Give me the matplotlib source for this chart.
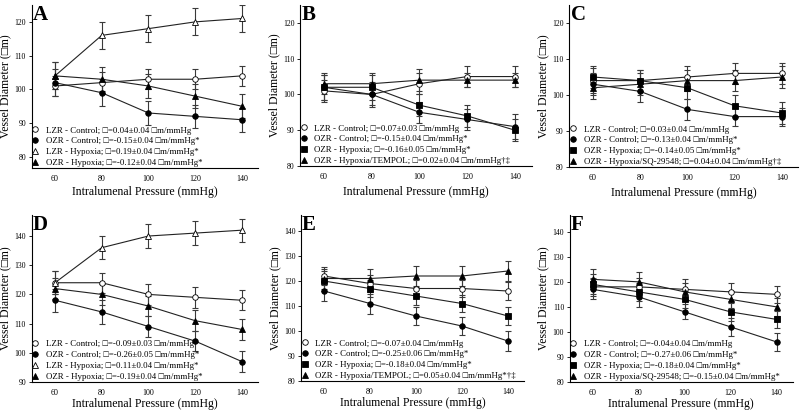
import matplotlib
matplotlib.use("Agg")
import matplotlib.pyplot as plt

plt.rcParams['font.family'] = ['Liberation Serif', 'DejaVu Sans']

pressure = [60, 80, 100, 120, 140]

# Panel A
a_lzr_ctrl = [101, 102, 103, 103, 104]
a_lzr_ctrl_err = [3, 3, 3, 3, 3]
a_ozr_ctrl = [102, 99, 93, 92, 91]
a_ozr_ctrl_err = [4, 4, 3.5, 3.5, 3.5]
a_lzr_hyp = [104, 116, 118, 120, 121]
a_lzr_hyp_err = [4, 4, 4, 4, 4]
a_ozr_hyp = [104, 103, 101, 98, 95]
a_ozr_hyp_err = [4, 3.5, 3.5, 3.5, 3.5]

# Panel B
b_lzr_ctrl = [101, 100, 103, 105, 105]
b_lzr_ctrl_err = [3, 3, 3, 3, 3]
b_ozr_ctrl = [102, 100, 95, 93, 91]
b_ozr_ctrl_err = [3.5, 3.5, 3, 3, 3.5]
b_ozr_hyp = [102, 102, 97, 94, 90]
b_ozr_hyp_err = [3.5, 3.5, 3, 3, 3]
b_ozr_tempol = [103, 103, 104, 104, 104]
b_ozr_tempol_err = [3, 3, 3, 2, 2]

# Panel C
c_lzr_ctrl = [104, 104, 105, 106, 106]
c_lzr_ctrl_err = [3.5, 3, 3, 3, 3]
c_ozr_ctrl = [103, 101, 96, 94, 94]
c_ozr_ctrl_err = [3, 3, 3, 2.5, 2.5]
c_ozr_hyp = [105, 104, 102, 97, 95]
c_ozr_hyp_err = [3, 3, 3, 3, 3]
c_ozr_sq = [102, 103, 104, 104, 105]
c_ozr_sq_err = [3, 3, 3, 3, 3]

# Panel D
d_lzr_ctrl = [124, 124, 120, 119, 118]
d_lzr_ctrl_err = [4, 3.5, 3.5, 3.5, 3.5]
d_ozr_ctrl = [118, 114, 109, 104, 97]
d_ozr_ctrl_err = [4, 4, 3.5, 3.5, 3.5]
d_lzr_hyp = [124, 136, 140, 141, 142]
d_lzr_hyp_err = [4, 4, 4, 4, 4]
d_ozr_hyp = [122, 120, 116, 111, 108]
d_ozr_hyp_err = [3.5, 3.5, 3.5, 3.5, 3.5]

# Panel E
e_lzr_ctrl = [122, 119, 117, 117, 116]
e_lzr_ctrl_err = [3.5, 3.5, 3.5, 3.5, 3.5]
e_ozr_ctrl = [116, 111, 106, 102, 96]
e_ozr_ctrl_err = [4, 4, 3.5, 3.5, 4]
e_ozr_hyp = [120, 117, 114, 111, 106]
e_ozr_hyp_err = [4, 3.5, 3.5, 3.5, 3.5]
e_ozr_tempol = [121, 121, 122, 122, 124]
e_ozr_tempol_err = [4, 4, 4, 4, 4]

# Panel F
f_lzr_ctrl = [118, 118, 117, 116, 115]
f_lzr_ctrl_err = [3.5, 3.5, 4, 3.5, 3.5]
f_ozr_ctrl = [117, 114, 108, 102, 96]
f_ozr_ctrl_err = [4, 4, 3, 3.5, 3.5]
f_ozr_hyp = [119, 116, 113, 108, 105]
f_ozr_hyp_err = [4, 3.5, 3.5, 3.5, 3.5]
f_ozr_sq = [121, 120, 116, 113, 110]
f_ozr_sq_err = [4, 4, 3.5, 3.5, 3.5]

labels_a = ["LZR - Control; \u25a1=0.04\u00b10.04 \u25a1m/mmHg",
            "OZR - Control; \u25a1=-0.15\u00b10.04 \u25a1m/mmHg*",
            "LZR - Hypoxia; \u25a1=0.19\u00b10.04 \u25a1m/mmHg*",
            "OZR - Hypoxia; \u25a1=-0.12\u00b10.04 \u25a1m/mmHg*"]
labels_b = ["LZR - Control; \u25a1=0.07\u00b10.03 \u25a1m/mmHg",
            "OZR - Control; \u25a1=-0.15\u00b10.04 \u25a1m/mmHg*",
            "OZR - Hypoxia; \u25a1=-0.16\u00b10.05 \u25a1m/mmHg*",
            "OZR - Hypoxia/TEMPOL; \u25a1=0.02\u00b10.04 \u25a1m/mmHg\u2020\u2021"]
labels_c = ["LZR - Control; \u25a1=0.03\u00b10.04 \u25a1m/mmHg",
            "OZR - Control; \u25a1=-0.13\u00b10.04 \u25a1m/mmHg*",
            "OZR - Hypoxia; \u25a1=-0.14\u00b10.05 \u25a1m/mmHg*",
            "OZR - Hypoxia/SQ-29548; \u25a1=0.04\u00b10.04 \u25a1m/mmHg\u2020\u2021"]
labels_d = ["LZR - Control; \u25a1=-0.09\u00b10.03 \u25a1m/mmHg",
            "OZR - Control; \u25a1=-0.26\u00b10.05 \u25a1m/mmHg*",
            "LZR - Hypoxia; \u25a1=0.11\u00b10.04 \u25a1m/mmHg*",
            "OZR - Hypoxia; \u25a1=-0.19\u00b10.04 \u25a1m/mmHg*"]
labels_e = ["LZR - Control; \u25a1=-0.07\u00b10.04 \u25a1m/mmHg",
            "OZR - Control; \u25a1=-0.25\u00b10.06 \u25a1m/mmHg*",
            "OZR - Hypoxia; \u25a1=-0.18\u00b10.04 \u25a1m/mmHg*",
            "OZR - Hypoxia/TEMPOL; \u25a1=0.05\u00b10.04 \u25a1m/mmHg*\u2020\u2021"]
labels_f = ["LZR - Control; \u25a1=-0.04\u00b10.04 \u25a1m/mmHg",
            "OZR - Control; \u25a1=-0.27\u00b10.06 \u25a1m/mmHg*",
            "OZR - Hypoxia; \u25a1=-0.18\u00b10.04 \u25a1m/mmHg*",
            "OZR - Hypoxia/SQ-29548; \u25a1=-0.15\u00b10.04 \u25a1m/mmHg*"]

W, H = 800, 411
fig = plt.figure(figsize=(8, 4.11), dpi=100)

# marker styles: (marker, filled)
OC = ('o', False)
FC = ('o', True)
OT = ('^', False)
FT = ('^', True)
FS = ('s', True)

def px_axes(left, top, width, bottom):
    return fig.add_axes([left / W, 1 - bottom / H, width / W, (bottom - top) / H])

panels = [
    dict(letter='A', rect=(31.6, 5, 226.7, 168), ylim=(76.7, 125), yticks=[80, 90, 100, 110, 120],
         xlab_off=24,
         series=[(a_lzr_ctrl, a_lzr_ctrl_err, OC), (a_ozr_ctrl, a_ozr_ctrl_err, FC),
                 (a_lzr_hyp, a_lzr_hyp_err, OT), (a_ozr_hyp, a_ozr_hyp_err, FT)], labels=labels_a),
    dict(letter='B', rect=(300.1, 5, 231.6, 166), ylim=(80, 125), yticks=[80, 90, 100, 110, 120],
         xlab_off=26,
         series=[(b_lzr_ctrl, b_lzr_ctrl_err, OC), (b_ozr_ctrl, b_ozr_ctrl_err, FC),
                 (b_ozr_hyp, b_ozr_hyp_err, FS), (b_ozr_tempol, b_ozr_tempol_err, FT)], labels=labels_b),
    dict(letter='C', rect=(569.4, 5, 229, 167), ylim=(80, 125), yticks=[80, 90, 100, 110, 120],
         xlab_off=26,
         series=[(c_lzr_ctrl, c_lzr_ctrl_err, OC), (c_ozr_ctrl, c_ozr_ctrl_err, FC),
                 (c_ozr_hyp, c_ozr_hyp_err, FS), (c_ozr_sq, c_ozr_sq_err, FT)], labels=labels_c),
    dict(letter='D', rect=(31.6, 215, 226.7, 382), ylim=(90, 147.2), yticks=[90, 100, 110, 120, 130, 140],
         xlab_off=22,
         series=[(d_lzr_ctrl, d_lzr_ctrl_err, OC), (d_ozr_ctrl, d_ozr_ctrl_err, FC),
                 (d_lzr_hyp, d_lzr_hyp_err, OT), (d_ozr_hyp, d_ozr_hyp_err, FT)], labels=labels_d),
    dict(letter='E', rect=(301, 215, 223, 381), ylim=(80, 146.4), yticks=[80, 90, 100, 110, 120, 130, 140],
         xlab_off=22,
         series=[(e_lzr_ctrl, e_lzr_ctrl_err, OC), (e_ozr_ctrl, e_ozr_ctrl_err, FC),
                 (e_ozr_hyp, e_ozr_hyp_err, FS), (e_ozr_tempol, e_ozr_tempol_err, FT)], labels=labels_e),
    dict(letter='F', rect=(569.7, 215, 223, 382), ylim=(80, 146.7), yticks=[80, 90, 100, 110, 120, 130, 140],
         xlab_off=22,
         series=[(f_lzr_ctrl, f_lzr_ctrl_err, OC), (f_ozr_ctrl, f_ozr_ctrl_err, FC),
                 (f_ozr_hyp, f_ozr_hyp_err, FS), (f_ozr_sq, f_ozr_sq_err, FT)], labels=labels_f),
]

for p in panels:
    left, top, width, bottom = p['rect']
    ax = px_axes(left, top, width, bottom)
    handles = []
    for (vals, errs, (mk, filled)), lab in zip(p['series'], p['labels']):
        ax.errorbar(pressure, vals, yerr=errs, fmt='none', ecolor='#3a3a3a',
                    elinewidth=0.8, capsize=2.3, capthick=0.8, zorder=2)
        ax.plot(pressure, vals, '-', color='#222222', lw=0.8, zorder=3)
        ms = 4.0 if mk != 's' else 3.7
        h, = ax.plot(pressure, vals, linestyle='none', marker=mk, markersize=ms,
                     markerfacecolor='black' if filled else 'white',
                     markeredgecolor='black', markeredgewidth=0.6, zorder=4)
        handles.append(h)
    ax.set_xlim(50, 147)
    ax.set_ylim(*p['ylim'])
    ax.set_xticks(pressure)
    ax.set_yticks(p['yticks'])
    for s in ('top', 'right'):
        ax.spines[s].set_visible(False)
    for s in ('left', 'bottom'):
        ax.spines[s].set_linewidth(0.8)
    ax.tick_params(axis='y', direction='out', length=2.5, width=0.6, pad=1.5, labelsize=5.6)
    ax.tick_params(axis='x', direction='out', length=0, pad=5, labelsize=5.8)
    ax.set_xlabel('Intralumenal Pressure (mmHg)', fontsize=8.5)
    ax.set_ylabel('Vessel Diameter (\u25a1m)', fontsize=8.5)
    ax.xaxis.set_label_coords(0.5, -p['xlab_off'] / (bottom - top), transform=ax.transAxes)
    ax.xaxis.label.set_va('center')
    ax.yaxis.set_label_coords(-26 / width, 0.5, transform=ax.transAxes)
    ax.yaxis.label.set_va('center')
    ax.text(0.005, 1.0, p['letter'], transform=ax.transAxes, fontsize=15,
            fontweight='bold', ha='left', va='top')
    ax.legend(handles, p['labels'], loc='lower left',
              bbox_to_anchor=(0.0, 0.005), frameon=False, fontsize=6.4,
              handlelength=0.8, handletextpad=0.8, labelspacing=0.3,
              borderpad=0, borderaxespad=0)

fig.savefig('out.png', dpi=100)
